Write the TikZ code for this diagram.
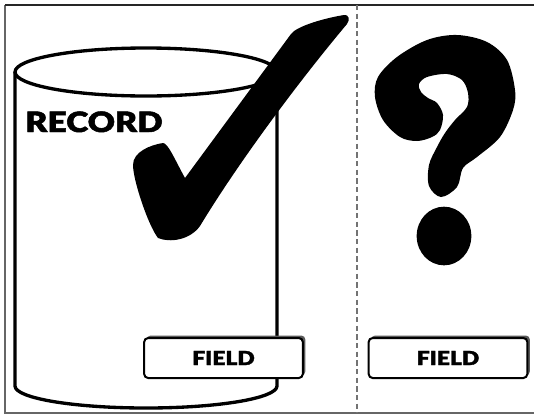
\documentclass[tikz,border=0pt]{standalone}
\usepackage{fontspec}
\newfontfamily\blk{Lato}[UprightFont=* Black,FakeBold=1.6]
\begin{document}
\begin{tikzpicture}[x=0.75pt,y=-0.75pt,
  cyl/.style={line width=2.5pt,draw=black,fill=white},
  fieldbox/.style={draw=black,line width=1.5pt,fill=white,rounded corners=3pt,minimum width=119pt,minimum height=30pt,inner sep=0pt},
  fieldtext/.style={font=\blk\fontsize{14.5}{16}\selectfont,xscale=1.18,inner sep=0pt},
  shadowbox/.style={fill=black!65,rounded corners=3pt,minimum width=119pt,minimum height=30pt,inner sep=0pt},
  frametop/.style={draw=black!85,line width=0.8pt},
  frameside/.style={draw=black!60,line width=0.8pt},
  divider/.style={draw=black!55,line width=0.8pt,dash pattern=on 4pt off 2.5pt}]
\useasboundingbox (0,0) rectangle (534,418);
\coordinate (c1) at (5,5);
\coordinate (c2) at (534,5);
\coordinate (c3) at (534,413);
\coordinate (c4) at (5,413);
\draw[frameside] (c1) -- (c4) -- (c3);
\draw[frametop] (c1) -- (c2);
\coordinate (dtop) at (357,5);
\coordinate (dbot) at (357,413);
\draw[divider] (dtop) -- (dbot);
% cylinder
\draw[cyl] (15,72) -- (15,386) arc[start angle=180,end angle=360,x radius=98.25pt,y radius=16.5pt] -- (277,72);
\draw[cyl] (146,72) ellipse[x radius=98.25pt,y radius=18pt];
\node[anchor=base west,inner sep=0pt,font=\blk\fontsize{21}{24}\selectfont,xscale=1.2] (rec) at (25,132) {RECORD};
% checkmark
\fill[black] (185,178) -- (291,34) .. controls (296,27) and (320,19) .. (344,15)
  .. controls (349,14) and (350,20) .. (347,24)
  .. controls (300,80) and (240,160) .. (200,226)
  .. controls (190,240) and (170,243) .. (158,238)
  .. controls (148,225) and (133,180) .. (133,165)
  .. controls (133,152) and (150,145) .. (163,143)
  .. controls (168,143) and (175,160) .. (185,178) -- cycle;
% question mark
\fill[black] plot[smooth cycle,tension=0.55] coordinates {(457,35) (487,42) (507,60) (515,90) (513,110) (500,137) (477,157) (463,168) (457,187) (441,197) (429,186) (429,165) (437,147) (445,133) (455,120) (467,107) (468,93) (462,80) (447,74) (427,77) (419,84) (421,92) (428,98) (437,103) (443,115) (440,130) (432,137) (417,141) (400,137) (383,120) (375,97) (378,77) (397,57) (427,40)};
\fill[black] (444,236) ellipse[x radius=20.5pt,y radius=22pt];
% field boxes
\node[shadowbox] (s1) at (226,355.5) {};
\node[shadowbox] (s2) at (450.5,355.5) {};
\node[fieldbox] (f1) at (223.5,358) {};
\node[fieldbox] (f2) at (448,358) {};
\node[fieldtext] (t1) at (f1.center) {FIELD};
\node[fieldtext] (t2) at (f2.center) {FIELD};
\end{tikzpicture}
\end{document}
